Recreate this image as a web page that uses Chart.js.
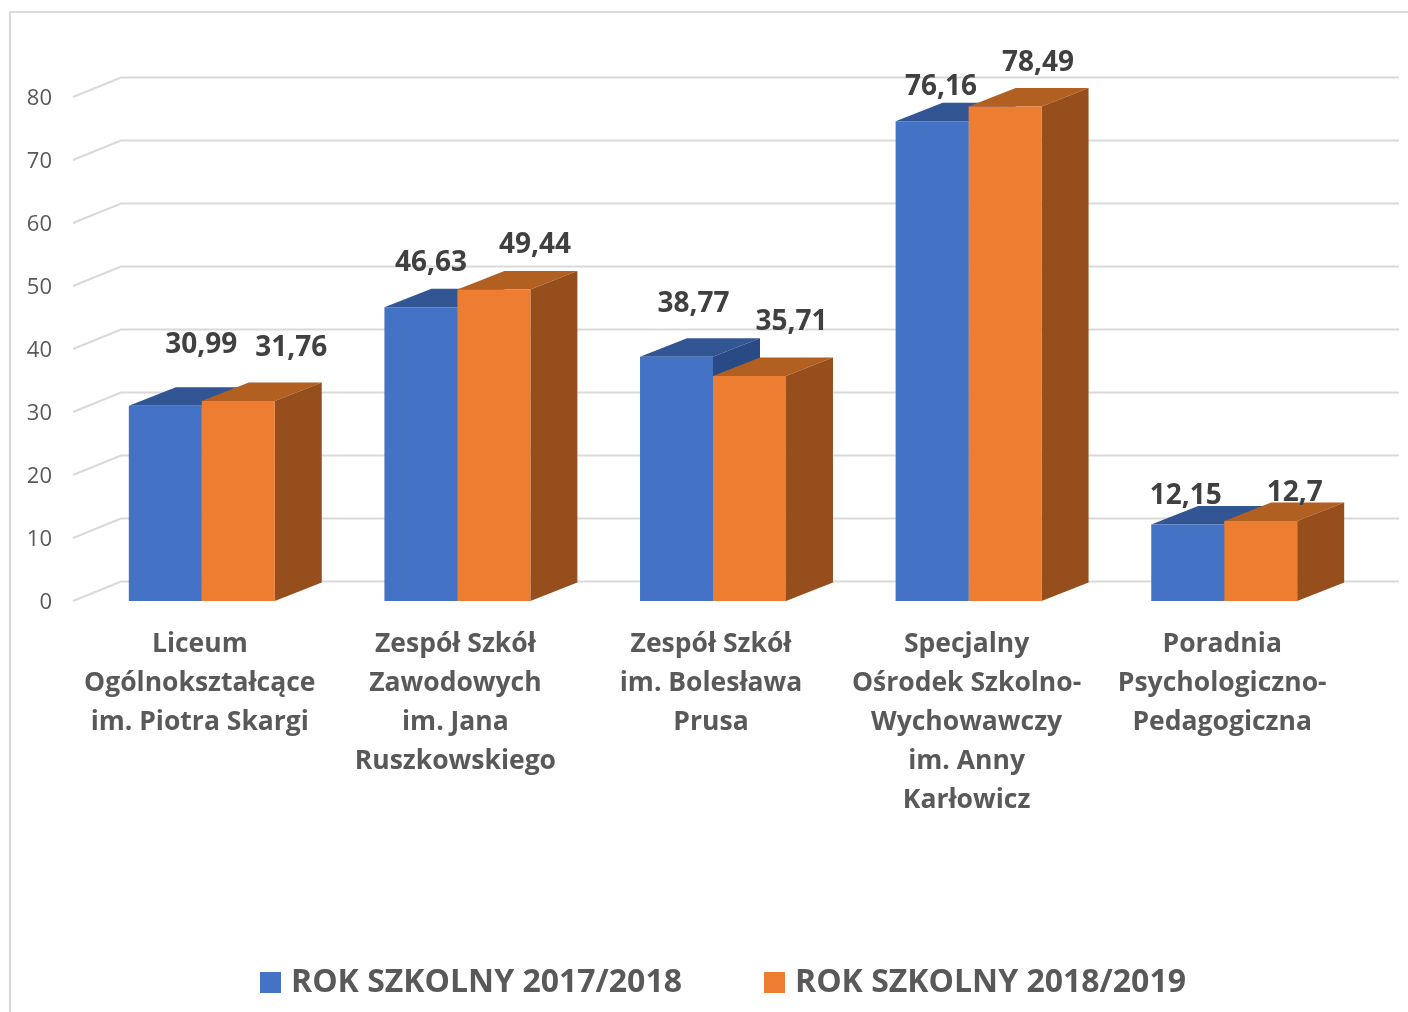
<!DOCTYPE html>
<html>
<head>
<meta charset="utf-8">
<style>
  html, body { margin: 0; padding: 0; background: #fff; }
  canvas { display: block; }
</style>
<script src="https://cdn.jsdelivr.net/npm/chart.js@4"></script>
</head>
<body>
<canvas id="chart" width="1408" height="1012"></canvas>
<script>
// School names and values for both school years
const schools = [
  ["Liceum", "Ogólnokształcące", "im. Piotra Skargi"],
  ["Zespół Szkół", "Zawodowych", "im. Jana", "Ruszkowskiego"],
  ["Zespół Szkół", "im. Bolesława", "Prusa"],
  ["Specjalny", "Ośrodek Szkolno-", "Wychowawczy", "im. Anny", "Karłowicz"],
  ["Poradnia", "Psychologiczno-", "Pedagogiczna"],
];
const seriesNames = ["ROK SZKOLNY 2017/2018", "ROK SZKOLNY 2018/2019"];
const values2017 = [30.99, 46.63, 38.77, 76.16, 12.15];
const values2018 = [31.76, 49.44, 35.71, 78.49, 12.7];
const yTicks = [0, 10, 20, 30, 40, 50, 60, 70, 80];

const FONT = '"Open Sans", sans-serif';
const GREY = "#595959";
const colors = [
  { front: "#4472C4", top: "#325593", side: "#2A4A85" },
  { front: "#ED7D31", top: "#B25F22", side: "#964F1C" },
];

// Depth of the fake 3D look, in pixels
const wallDepth = { x: 48, y: 19.5 };
const barDepth = { x: 47, y: 18.5 };

// Hand placed value labels, relative to the top front middle of each bar
const labelShift = [
  [[36, -61], [10, -44], [17, -53], [9, -34], [-2, -28]],
  [[53, -53], [41, -44], [42, -54], [33, -43], [34, -28]],
];

function poly(ctx, pts, fill) {
  ctx.beginPath();
  pts.forEach((p, i) => (i ? ctx.lineTo(p[0], p[1]) : ctx.moveTo(p[0], p[1])));
  ctx.closePath();
  ctx.fillStyle = fill;
  ctx.fill();
}

const frame3d = {
  id: "frame3d",
  beforeDraw(chart) {
    const ctx = chart.ctx;
    ctx.save();
    ctx.fillStyle = "#fff";
    ctx.fillRect(0, 0, chart.width, chart.height);
    ctx.strokeStyle = "#D9D9D9";
    ctx.lineWidth = 2;
    ctx.beginPath();
    ctx.moveTo(10, chart.height);
    ctx.lineTo(10, 12);
    ctx.lineTo(chart.width, 12);
    ctx.stroke();
    ctx.restore();
  },
  beforeDatasetsDraw(chart) {
    const ctx = chart.ctx;
    const { left, right } = chart.chartArea;
    const yScale = chart.scales.y;
    ctx.save();
    // grid lines run along the side wall and then the back wall
    ctx.strokeStyle = "#D9D9D9";
    ctx.lineWidth = 2;
    yTicks.forEach((t) => {
      const y = yScale.getPixelForValue(t);
      ctx.beginPath();
      ctx.moveTo(left - 1, y);
      ctx.lineTo(left + wallDepth.x - 1, y - wallDepth.y);
      ctx.lineTo(right + wallDepth.x - 1, y - wallDepth.y);
      ctx.stroke();
    });
    // top and side faces, the native bars paint the fronts over them
    chart.data.datasets.forEach((ds, i) => {
      chart.getDatasetMeta(i).data.forEach((bar) => {
        const l = bar.x - bar.width / 2;
        const r = bar.x + bar.width / 2;
        const dx = barDepth.x;
        const dy = barDepth.y;
        poly(ctx, [[l, bar.y], [r, bar.y], [r + dx, bar.y - dy], [l + dx, bar.y - dy]], colors[i].top);
        poly(ctx, [[r, bar.y], [r + dx, bar.y - dy], [r + dx, bar.base - dy], [r, bar.base]], colors[i].side);
      });
    });
    ctx.restore();
  },
  afterDatasetsDraw(chart) {
    const ctx = chart.ctx;
    ctx.save();
    ctx.font = "700 28px " + FONT;
    ctx.fillStyle = "#404040";
    ctx.textAlign = "center";
    ctx.textBaseline = "middle";
    chart.data.datasets.forEach((ds, i) => {
      chart.getDatasetMeta(i).data.forEach((bar, j) => {
        const text = String(ds.data[j]).replace(".", ",");
        ctx.fillText(text, bar.x + labelShift[i][j][0], bar.y + labelShift[i][j][1]);
      });
    });
    // legend, the built-in one cannot get the small gap after the swatch
    ctx.font = "700 32px " + FONT;
    ctx.textAlign = "left";
    [260, 764].forEach((x, i) => {
      ctx.fillStyle = colors[i].front;
      ctx.fillRect(x, 972, 21, 21);
      ctx.fillStyle = GREY;
      ctx.fillText(seriesNames[i], x + 31, 983);
    });
    ctx.restore();
  },
};

new Chart(document.getElementById("chart"), {
  type: "bar",
  data: {
    labels: schools,
    datasets: [
      { label: seriesNames[0], data: values2017, backgroundColor: colors[0].front },
      { label: seriesNames[1], data: values2018, backgroundColor: colors[1].front },
    ],
  },
  options: {
    responsive: false,
    animation: false,
    layout: { padding: { top: 97, right: 56, left: 0, bottom: 0 } },
    datasets: { bar: { categoryPercentage: 0.571, barPercentage: 1 } },
    scales: {
      x: {
        grid: { display: false, drawTicks: false },
        border: { display: false },
        afterFit(scale) { scale.height = 411; },
        ticks: {
          autoSkip: false,
          maxRotation: 0,
          padding: 24,
          labelOffset: -2,
          color: GREY,
          font: { family: FONT, size: 26.5, weight: "700", lineHeight: 39 / 26.5 },
        },
      },
      y: {
        min: 0,
        max: 80,
        grid: { display: false, drawTicks: false },
        border: { display: false },
        afterFit(scale) { scale.width = 74; },
        afterBuildTicks(scale) { scale.ticks = yTicks.map((v) => ({ value: v })); },
        ticks: {
          padding: 22,
          labelOffset: 2,
          color: GREY,
          font: { family: FONT, size: 22 },
        },
      },
    },
    plugins: { legend: { display: false }, tooltip: { enabled: false } },
  },
  plugins: [frame3d],
});
</script>
</body>
</html>
